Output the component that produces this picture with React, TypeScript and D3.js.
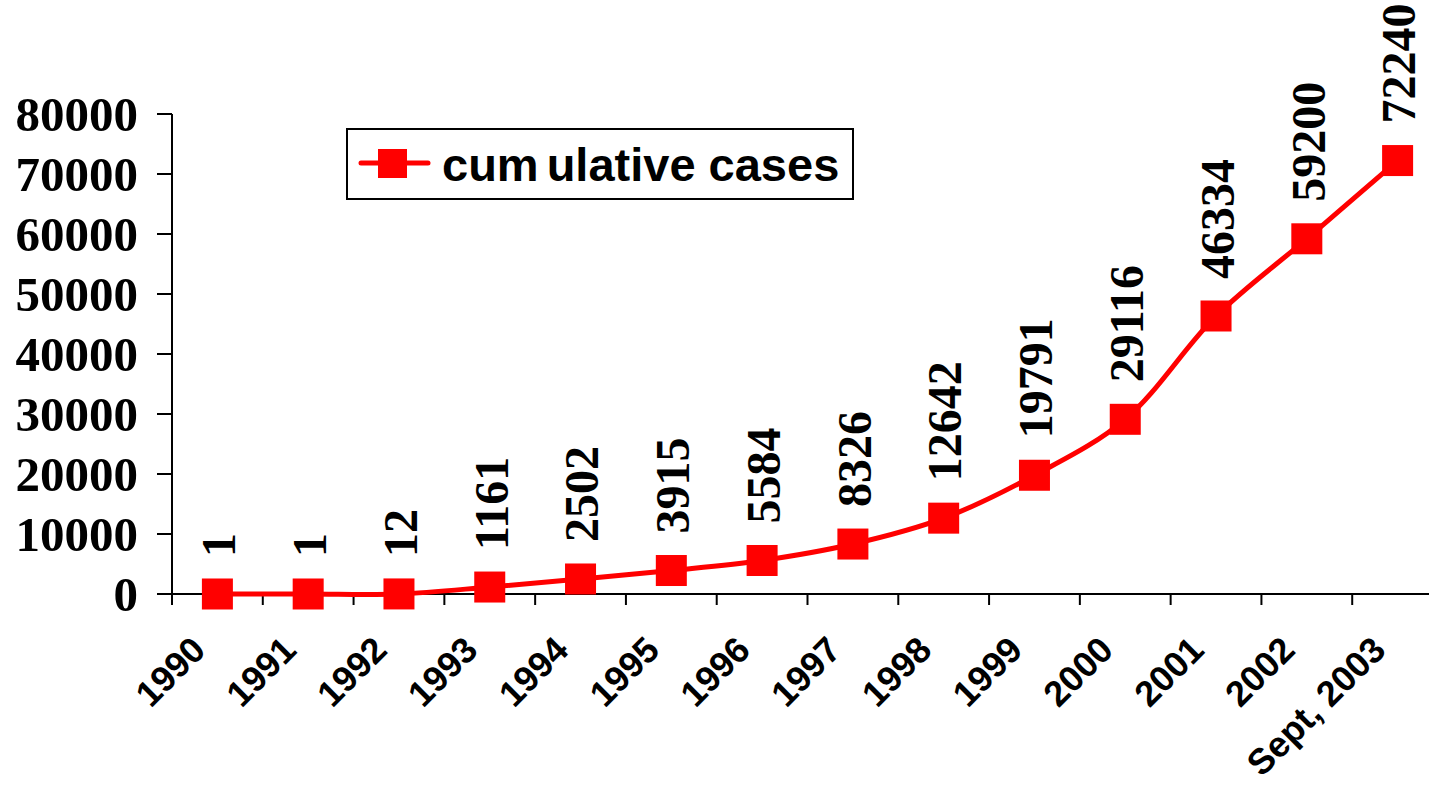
import React from "react";
import * as d3 from "d3";

const categories = [
  "1990", "1991", "1992", "1993", "1994", "1995", "1996",
  "1997", "1998", "1999", "2000", "2001", "2002", "Sept, 2003",
];
const cumulativeCases = [
  1, 1, 12, 1161, 2502, 3915, 5584, 8326, 12642, 19791, 29116, 46334, 59200, 72240,
];
const yTicks = [0, 10000, 20000, 30000, 40000, 50000, 60000, 70000, 80000];
const seriesName = ["cum", "ulative cases"];

const W = 1429;
const H = 786;
const RED = "#FF0000";
const SERIF = "'Liberation Serif', 'Times New Roman', serif";
const SANS = "'Liberation Sans', Arial, sans-serif";

export default function App() {
  const x = d3.scaleBand<string>().domain(categories).range([172, 1443]).padding(0);
  const y = d3.scaleLinear().domain([0, 80000]).range([594, 114]);
  const cx = (c: string) => (x(c) as number) + x.bandwidth() / 2;

  const pts: [number, number][] = categories.map((c, i) => [cx(c), y(cumulativeCases[i])]);
  const line = d3.line<[number, number]>().curve(d3.curveCatmullRom.alpha(0.5))(pts) || "";

  const boundaries = categories.map((c) => x(c) as number).concat([x.range()[1]]);
  const MS = 31;

  return (
    <svg
      width={W}
      height={H}
      style={{ position: "absolute", left: 0, top: 0, background: "#fff" }}
    >
      <rect x={0} y={0} width={W} height={H} fill="#fff" />
      {/* Y axis */}
      <line x1={172} x2={172} y1={y(80000)} y2={y(0)} stroke="#000" strokeWidth={2} />
      {yTicks.map((t) => (
        <g key={t}>
          <line x1={157} x2={172} y1={y(t)} y2={y(t)} stroke="#000" strokeWidth={2} />
          <text
            x={138}
            y={y(t)}
            dy="0.35em"
            textAnchor="end"
            fontFamily={SERIF}
            fontWeight="bold"
            fontSize={49}
            fill="#000"
          >
            {t}
          </text>
        </g>
      ))}
      {/* X axis */}
      <line x1={172} x2={x.range()[1]} y1={y(0)} y2={y(0)} stroke="#000" strokeWidth={2} />
      {boundaries.map((b, i) => (
        <line key={i} x1={b} x2={b} y1={y(0)} y2={y(0) + 11} stroke="#000" strokeWidth={2} />
      ))}
      {categories.map((c) => (
        <text
          key={c}
          transform={`translate(${cx(c) - 10},652) rotate(-45)`}
          textAnchor="end"
          fontFamily={SANS}
          fontWeight="bold"
          fontSize={36}
          fill="#000"
        >
          {c}
        </text>
      ))}
      {/* Series line */}
      <path d={line} fill="none" stroke={RED} strokeWidth={5} strokeLinejoin="round" />
      {pts.map(([px, py], i) => (
        <rect key={i} x={px - MS / 2} y={py - MS / 2} width={MS} height={MS} fill={RED} />
      ))}
      {/* Data labels */}
      {pts.map(([px, py], i) => (
        <text
          key={i}
          transform={`translate(${px + 1},${py - 37}) rotate(-90)`}
          dy="0.35em"
          textAnchor="start"
          fontFamily={SERIF}
          fontWeight="bold"
          fontSize={48}
          fill="#000"
        >
          {cumulativeCases[i]}
        </text>
      ))}
      {/* Legend */}
      <rect x={347} y={129} width={506} height={70} fill="#fff" stroke="#000" strokeWidth={2} />
      <line x1={361} x2={428} y1={163} y2={163} stroke={RED} strokeWidth={5} strokeLinecap="round" />
      <rect x={378} y={149} width={29} height={29} fill={RED} />
      <text x={442} y={181} fontFamily={SANS} fontWeight="bold" fontSize={47} fill="#000">
        <tspan>{seriesName[0]}</tspan>
        <tspan dx={8}>{seriesName[1]}</tspan>
      </text>
    </svg>
  );
}
